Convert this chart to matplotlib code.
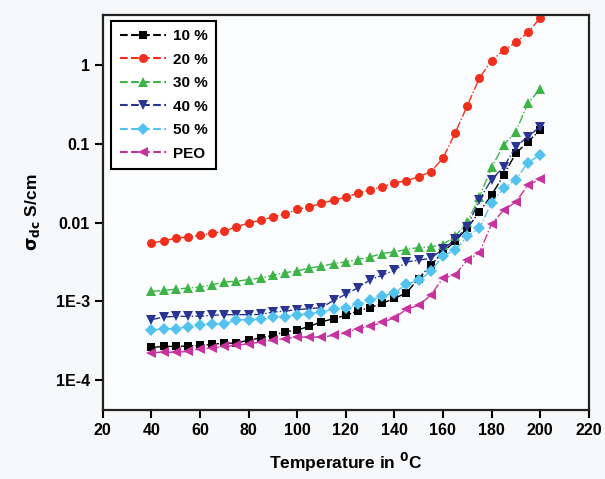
import matplotlib
matplotlib.use("Agg")
import matplotlib.pyplot as plt
from matplotlib.ticker import FixedLocator, FixedFormatter, NullLocator

plt.rcParams['font.family'] = ['Liberation Sans', 'DejaVu Sans']
plt.rcParams['font.weight'] = 'bold'

temps = list(range(40, 201, 5))

s10 = [2.61e-4, 2.69e-4, 2.69e-4, 2.72e-4, 2.77e-4, 2.85e-4, 2.98e-4, 2.94e-4, 3.25e-4,
       3.44e-4, 3.71e-4, 4.13e-4, 4.35e-4, 4.83e-4, 5.51e-4, 6.04e-4, 6.66e-4, 7.60e-4,
       8.34e-4, 9.46e-4, 1.09e-3, 1.29e-3, 1.95e-3, 2.88e-3, 4.21e-3, 5.81e-3, 8.49e-3,
       1.36e-2, 2.23e-2, 4.00e-2, 7.55e-2, 0.106, 0.149]
s20 = [5.52e-3, 5.85e-3, 6.34e-3, 6.58e-3, 6.92e-3, 7.33e-3, 7.78e-3, 8.81e-3, 9.91e-3,
       1.07e-2, 1.18e-2, 1.28e-2, 1.47e-2, 1.58e-2, 1.75e-2, 1.93e-2, 2.08e-2, 2.38e-2,
       2.58e-2, 2.84e-2, 3.19e-2, 3.39e-2, 3.81e-2, 4.41e-2, 6.53e-2, 0.136, 0.301,
       0.678, 1.13, 1.52, 1.92, 2.57, 3.92]
s30 = [1.34e-3, 1.38e-3, 1.43e-3, 1.48e-3, 1.52e-3, 1.63e-3, 1.76e-3, 1.80e-3, 1.89e-3,
       1.98e-3, 2.15e-3, 2.32e-3, 2.43e-3, 2.66e-3, 2.79e-3, 3.02e-3, 3.17e-3, 3.40e-3,
       3.67e-3, 4.05e-3, 4.25e-3, 4.55e-3, 4.83e-3, 4.91e-3, 5.27e-3, 6.7e-3, 1.01e-2,
       2.1e-2, 4.99e-2, 9.6e-2, 0.142, 0.326, 0.491]
s40 = [5.87e-4, 6.34e-4, 6.47e-4, 6.47e-4, 6.52e-4, 6.66e-4, 6.80e-4, 6.80e-4, 6.80e-4,
       6.85e-4, 7.33e-4, 7.55e-4, 7.87e-4, 8.10e-4, 8.34e-4, 1.03e-3, 1.23e-3, 1.49e-3,
       1.88e-3, 2.15e-3, 2.48e-3, 3.17e-3, 3.33e-3, 3.53e-3, 4.59e-3, 6.10e-3, 8.74e-3,
       1.93e-2, 3.51e-2, 5.06e-2, 9.16e-2, 0.123, 0.164]
s50 = [4.30e-4, 4.51e-4, 4.51e-4, 4.79e-4, 4.97e-4, 5.19e-4, 5.19e-4, 5.84e-4, 5.86e-4,
       5.93e-4, 6.34e-4, 6.41e-4, 6.66e-4, 7.00e-4, 7.38e-4, 7.94e-4, 8.34e-4, 9.18e-4,
       1.03e-3, 1.16e-3, 1.28e-3, 1.65e-3, 1.85e-3, 2.41e-3, 3.80e-3, 4.46e-3, 6.72e-3,
       8.41e-3, 1.79e-2, 2.71e-2, 3.50e-2, 5.77e-2, 7.18e-2]
peo = [2.25e-4, 2.27e-4, 2.27e-4, 2.32e-4, 2.51e-4, 2.56e-4, 2.69e-4, 2.77e-4, 2.91e-4,
       3.05e-4, 3.21e-4, 3.37e-4, 3.53e-4, 3.53e-4, 3.53e-4, 3.71e-4, 3.99e-4, 4.51e-4,
       4.83e-4, 5.42e-4, 6.19e-4, 7.94e-4, 8.91e-4, 1.20e-3, 1.97e-3, 2.18e-3, 3.33e-3,
       4.14e-3, 9.55e-3, 1.44e-2, 1.82e-2, 2.99e-2, 3.53e-2]

labels = ['10 %', '20 %', '30 %', '40 %', '50 %', 'PEO']
colors = ['#000000', '#f0301c', '#3cb446', '#2a3593', '#52c3ee', '#c8329e']
markers = ['s', 'o', '^', 'v', 'D', '<']
msizes = [5.5, 6.5, 7.5, 7.5, 6, 7.5]

y_ticks = [1e-4, 1e-3, 1e-2, 1e-1, 1]
y_labels = ['1E-4', '1E-3', '0.01', '0.1', '1']
x_ticks = list(range(20, 221, 20))


def main():
    fig = plt.figure(figsize=(6.05, 4.79), dpi=100, facecolor='#f7f8fa')
    ax = fig.add_axes([0.170, 0.144, 0.803, 0.825])
    ax.set_facecolor('#fbfcfd')

    series = [s10, s20, s30, s40, s50, peo]
    for vals, lab, c, m, ms in zip(series, labels, colors, markers, msizes):
        ax.plot(temps, vals, linestyle='-.', linewidth=1.0, color=c, marker=m,
                markersize=ms, markeredgewidth=0, label=lab)

    ax.set_yscale('log')
    ax.set_xlim(20, 220)
    ax.set_ylim(4.2e-5, 4.3)
    ax.yaxis.set_major_locator(FixedLocator(y_ticks))
    ax.yaxis.set_major_formatter(FixedFormatter(y_labels))
    ax.yaxis.set_minor_locator(NullLocator())
    ax.set_xticks(x_ticks)

    ax.tick_params(axis='both', direction='out', length=6, width=1.5, labelsize=11.5)
    for sp in ax.spines.values():
        sp.set_linewidth(1.6)
        sp.set_color('#222222')

    ax.set_xlabel('Temperature in $\\mathbf{^0}$C', fontsize=12.5, fontweight='bold', labelpad=9)
    ax.set_ylabel('$\\mathbf{\\sigma_{dc}}$ S/cm', fontsize=12.5, fontweight='bold', labelpad=10)

    leg = ax.legend(loc='upper left', fontsize=11, frameon=True, fancybox=False,
                    handlelength=3.0, borderaxespad=0.4, labelspacing=0.62,
                    handletextpad=0.5, borderpad=0.55, bbox_to_anchor=(0.005, 1.0))
    leg.get_frame().set_edgecolor('black')
    leg.get_frame().set_linewidth(1.5)
    leg.get_frame().set_facecolor('white')
    leg.get_frame().set_alpha(1)
    for h in leg.legend_handles:
        h.set_linestyle('--')
        h.set_linewidth(1.5)

    fig.savefig('out.png', dpi=100, facecolor=fig.get_facecolor())


if __name__ == '__main__':
    main()
